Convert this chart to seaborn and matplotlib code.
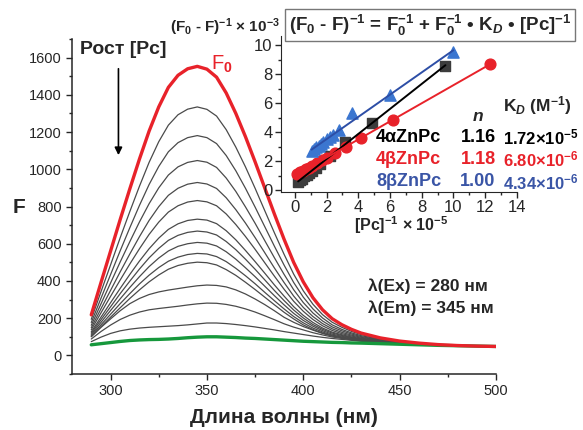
import numpy as np
import pandas as pd
import matplotlib
matplotlib.use("Agg")
import matplotlib.pyplot as plt
from matplotlib.ticker import MultipleLocator
import seaborn as sns

# спектры флуоресценции (длина волны, нм)
wavelength = [290, 295, 300, 305, 310, 315, 320, 325, 330, 335, 340, 345,
              350, 355, 360, 365, 370, 375, 380, 385, 390, 395, 400, 405,
              410, 415, 420, 425, 430, 440, 450, 460, 470, 480, 490, 500]

f0_red = [218, 390, 560, 730, 895, 1055, 1205, 1335, 1440, 1505, 1540, 1553,
          1538, 1495, 1410, 1300, 1175, 1040, 900, 760, 625, 500, 395, 310,
          245, 197, 165, 140, 120, 94, 77, 66, 58, 53, 50, 48]
f_green = [57, 63, 69, 75, 80, 83, 85, 86, 88, 91, 95, 98,
           100, 100, 98, 96, 93, 91, 88, 85, 82, 79, 76, 74,
           72, 70, 69, 67, 66, 63, 60, 57, 54, 52, 50, 48]

f_step01 = [194, 341, 486, 632, 773, 909, 1037, 1148, 1237, 1293, 1323, 1335, 1322, 1286, 1213, 1119, 1013, 898,
            778, 659, 544, 437, 347, 275, 219, 178, 151, 129, 112, 89, 74, 65, 57, 53, 50, 48]
f_step02 = [177, 306, 434, 562, 686, 806, 918, 1015, 1094, 1143, 1170, 1181, 1170, 1138, 1074, 992, 898, 797,
            692, 587, 486, 392, 313, 250, 201, 164, 140, 121, 106, 86, 73, 64, 57, 53, 50, 48]
f_step03 = [162, 276, 389, 502, 611, 717, 815, 900, 969, 1013, 1037, 1047, 1038, 1010, 953, 881, 798, 710,
            617, 525, 436, 353, 284, 228, 185, 153, 132, 115, 101, 83, 71, 63, 57, 53, 50, 48]
f_step04 = [149, 250, 349, 449, 545, 638, 725, 799, 860, 898, 920, 929, 921, 897, 847, 783, 711, 633,
            552, 470, 392, 319, 258, 209, 171, 143, 124, 109, 97, 81, 70, 62, 56, 53, 50, 48]
f_step05 = [138, 228, 317, 405, 491, 573, 650, 716, 770, 804, 824, 832, 825, 804, 760, 703, 639, 570,
            498, 426, 356, 291, 237, 193, 159, 134, 117, 104, 93, 79, 69, 62, 56, 53, 50, 48]
f_step06 = [127, 205, 283, 360, 435, 507, 573, 630, 677, 707, 725, 732, 727, 708, 670, 621, 564, 504,
            442, 379, 319, 262, 215, 177, 147, 125, 111, 99, 90, 77, 67, 61, 56, 52, 50, 48]
f_step07 = [120, 191, 261, 332, 399, 464, 524, 575, 618, 645, 661, 668, 663, 647, 612, 568, 517, 463,
            406, 349, 295, 244, 201, 166, 140, 120, 107, 96, 87, 75, 67, 61, 56, 52, 50, 48]
f_step08 = [113, 177, 241, 304, 365, 423, 477, 523, 561, 586, 600, 607, 603, 588, 557, 517, 471, 423,
            372, 321, 272, 226, 188, 157, 133, 114, 103, 93, 85, 74, 66, 60, 55, 52, 50, 48]
f_step09 = [107, 164, 221, 278, 332, 384, 431, 472, 506, 528, 542, 548, 545, 531, 504, 468, 428, 385,
            339, 294, 250, 209, 175, 147, 126, 109, 99, 90, 83, 73, 65, 60, 55, 52, 50, 48]
f_step10 = [102, 154, 205, 256, 306, 352, 395, 432, 463, 483, 495, 501, 498, 486, 461, 430, 393, 354,
            313, 272, 232, 196, 164, 139, 120, 105, 96, 87, 81, 72, 65, 59, 55, 52, 50, 48]
f_step11 = [100, 150, 196, 240, 278, 306, 327, 341, 351, 359, 367, 374, 378, 376, 368, 352, 330, 303,
            273, 240, 205, 178, 155, 136, 118, 104, 94, 86, 80, 72, 65, 60, 56, 53, 50, 48]
f_step12 = [88, 128, 163, 193, 216, 233, 245, 252, 258, 264, 271, 277, 281, 280, 274, 264, 250, 233,
            213, 192, 170, 152, 137, 122, 110, 99, 91, 84, 78, 70, 64, 59, 55, 52, 50, 48]
f_step13 = [74, 98, 118, 132, 141, 147, 151, 154, 157, 160, 164, 169, 174, 174, 171, 166, 160, 153,
            145, 137, 128, 120, 112, 104, 97, 91, 86, 81, 76, 69, 63, 58, 54, 52, 50, 48]

# вставка: (F0 - F)^-1 от [Pc]^-1
x_4a = [0.2, 0.3, 0.45, 0.6, 0.75, 0.9, 1.1, 1.35, 1.6, 2.2, 3.15, 4.85, 9.5]
y_4a = [0.6, 0.7, 0.8, 0.95, 1.05, 1.2, 1.35, 1.55, 1.8, 2.35, 3.3, 4.65, 8.55]
x_4b = [0.15, 0.3, 0.5, 0.7, 0.9, 1.1, 1.4, 1.7, 2.0, 2.5, 3.2, 4.2, 6.2, 12.3]
y_4b = [1.15, 1.25, 1.35, 1.45, 1.55, 1.7, 1.85, 2.05, 2.25, 2.55, 2.95, 3.6, 4.85, 8.7]
x_8b = [1.05, 1.2, 1.35, 1.5, 1.65, 1.8, 2.0, 2.2, 2.4, 2.75, 3.6, 6.0, 10.0]
y_8b = [2.7, 2.85, 2.95, 3.05, 3.2, 3.35, 3.5, 3.65, 3.8, 4.15, 5.35, 6.55, 9.5]

compounds = ["4αZnPc", "4βZnPc", "8βZnPc"]
n_values = ["1.16", "1.18", "1.00"]
kd_values = ["1.72×10$^{-5}$", "6.80×10$^{-6}$", "4.34×10$^{-6}$"]

RED = "#e8222a"
GREEN = "#16983c"
BLUE_PT = "#3b76d0"
BLUE_LN = "#2d4ea6"
BLUE_TXT = "#3a55a6"

sns.set_style("ticks")
plt.rcParams["font.family"] = ["Liberation Sans", "DejaVu Sans"]
plt.rcParams["mathtext.fontset"] = "custom"
plt.rcParams["mathtext.rm"] = "Liberation Sans:bold"
plt.rcParams["mathtext.it"] = "Liberation Sans:bold:italic"
plt.rcParams["mathtext.bf"] = "Liberation Sans:bold"
plt.rcParams["xtick.direction"] = "out"
plt.rcParams["ytick.direction"] = "out"


def px(x, y):
    # пиксели -> доли фигуры
    return x / 583, 1 - y / 430


fig = plt.figure(figsize=(5.83, 4.30), dpi=100)
ax = fig.add_axes([0.1235, 0.1302, 0.7273, 0.7791])

grays = [f_step01, f_step02, f_step03, f_step04, f_step05, f_step06, f_step07,
         f_step08, f_step09, f_step10, f_step11, f_step12, f_step13]
for g in grays:
    sns.lineplot(x=wavelength, y=g, ax=ax, color="#4a4a4a", lw=0.9)
sns.lineplot(x=wavelength, y=f_green, ax=ax, color=GREEN, lw=2.4)
sns.lineplot(x=wavelength, y=f0_red, ax=ax, color=RED, lw=2.4)

ax.set_xlim(280, 500)
ax.set_ylim(-100, 1700)
ax.xaxis.set_major_locator(MultipleLocator(50))
ax.xaxis.set_minor_locator(MultipleLocator(25))
ax.yaxis.set_major_locator(MultipleLocator(200))
ax.yaxis.set_minor_locator(MultipleLocator(100))
ax.set_yticks(range(0, 1601, 200))
ax.tick_params(labelsize=10.5, length=4, width=1)
ax.tick_params(which="minor", length=2.5, width=1)
sns.despine(ax=ax)
for s in ["left", "bottom"]:
    ax.spines[s].set_linewidth(1.1)

ax.set_xlabel("Длина волны (нм)", fontsize=15, fontweight="bold", labelpad=7)
ax.set_ylabel("F", fontsize=15, fontweight="bold", rotation=0, va="center")
ax.yaxis.set_label_coords(-0.125, 0.496)

ax.text(283.9, 1641, "Рост [Pc]", fontsize=14, fontweight="bold", va="center")
ax.annotate("", xy=(304.1, 1061), xytext=(304.1, 1555),
            arrowprops=dict(arrowstyle="-|>", color="black", lw=1.2, mutation_scale=11))
ax.text(352, 1566, "F$_0$", fontsize=14.5, color=RED, va="center")
ax.text(433.7, 370, "λ(Ex) = 280 нм", fontsize=12.5, fontweight="bold", va="center")
ax.text(433.7, 254, "λ(Em) = 345 нм", fontsize=12.5, fontweight="bold", va="center")

# вставка
ins = fig.add_axes([0.4815, 0.5542, 0.4048, 0.3614])
ins.patch.set_alpha(0)
sns.regplot(x=x_4a, y=y_4a, ax=ins, ci=None, marker="s",
            scatter_kws={"s": 45, "color": "#3c3c3c", "alpha": 1}, line_kws={"color": "black", "lw": 1.4})
sns.regplot(x=x_4b, y=y_4b, ax=ins, ci=None, marker="o",
            scatter_kws={"s": 60, "color": RED, "alpha": 1}, line_kws={"color": RED, "lw": 1.4})
sns.regplot(x=x_8b, y=y_8b, ax=ins, ci=None, marker="^",
            scatter_kws={"s": 65, "color": BLUE_PT, "alpha": 1}, line_kws={"color": BLUE_LN, "lw": 1.4})
ins.set_xlim(-0.9, 14)
ins.set_ylim(-0.1, 10.6)
ins.xaxis.set_major_locator(MultipleLocator(2))
ins.xaxis.set_minor_locator(MultipleLocator(1))
ins.yaxis.set_major_locator(MultipleLocator(2))
ins.yaxis.set_minor_locator(MultipleLocator(1))
ins.set_yticks(range(0, 11, 2))
ins.tick_params(labelsize=12, length=4, width=1, pad=2)
ins.tick_params(which="minor", length=2.5, width=1)
sns.despine(ax=ins)

fig.text(*px(280, 27), "(F$_0$ - F)$^{-1}$ × 10$^{-3}$", fontsize=11, fontweight="bold",
         ha="right", va="center")
fig.text(*px(401, 225), "[Pc]$^{-1}$ × 10$^{-5}$", fontsize=11.5, fontweight="bold",
         ha="center", va="center")
fig.text(*px(430, 25), r"(F$_0$ - F)$^{-1}$ = F$_0^{-1}$ + F$_0^{-1}$ • K$_{\mathit{D}}$ • [Pc]$^{-1}$",
         fontsize=13.5, fontweight="bold", ha="center", va="center",
         bbox=dict(boxstyle="square,pad=0.2", fc="white", ec="#777777", lw=1))

fig.text(*px(478, 116), "$\\mathit{n}$", fontsize=12.5, ha="center", va="center")
fig.text(*px(503, 106), "K$_{\\mathit{D}}$ (M$^{-1}$)", fontsize=12.5, fontweight="bold", va="center")
row_colors = ["black", RED, BLUE_TXT]
row_y = [137, 159, 182]
for name, n, kd, c, yy in zip(compounds, n_values, kd_values, row_colors, row_y):
    fig.text(*px(376, yy), name, fontsize=13, fontweight="bold", color=c, va="center")
    fig.text(*px(478, yy), n, fontsize=13, fontweight="bold", color=c, ha="center", va="center")
    fig.text(*px(503, yy), kd, fontsize=12, fontweight="bold", color=c, va="center")

fig.savefig("out.png", dpi=100)
